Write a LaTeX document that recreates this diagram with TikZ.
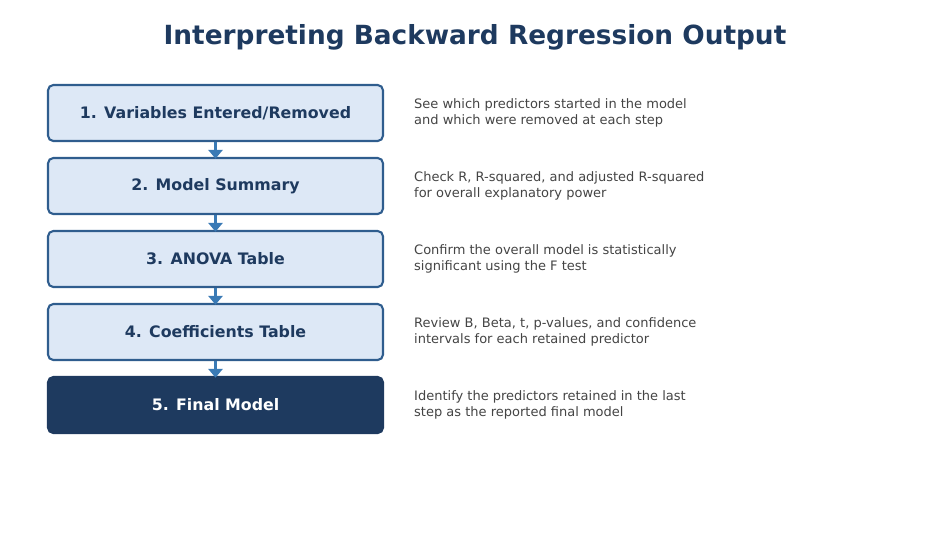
\documentclass[tikz,border=0pt]{standalone}
\usepackage{fontspec}
\setmainfont{DejaVu Sans}
\usetikzlibrary{positioning,arrows.meta}
\definecolor{navy}{HTML}{1E3A5F}
\definecolor{stepfill}{HTML}{DDE8F6}
\definecolor{stepline}{HTML}{2F5D8E}
\definecolor{arrowblue}{HTML}{3A7AB5}
\definecolor{desc}{HTML}{444444}
\tikzset{
  stage/.style={draw=stepline,line width=1.2pt,fill=stepfill,rounded corners=3pt,
    minimum width=6.7cm,minimum height=1.12cm,font=\fontsize{9}{10}\selectfont\bfseries,text=navy},
  final/.style={stage,draw=navy,fill=navy,text=white},
  note/.style={anchor=west,align=left,text=desc,font=\fontsize{7.4}{9}\selectfont},
  flow/.style={draw=arrowblue,line width=2.2pt,-{Triangle[length=5pt,width=8pt]},shorten >=-1pt}
}
\begin{document}
\begin{tikzpicture}[x=0.02cm,y=-0.02cm]
\useasboundingbox (0,0) rectangle (950,539);
\node[text=navy,font=\fontsize{15}{18}\selectfont\bfseries] (title) at (475,37) {Interpreting Backward Regression Output};

\node[stage] (s1) at (215.5,113) {1. Variables Entered/Removed};
\node[stage] (s2) at (215.5,186) {2. Model Summary};
\node[stage] (s3) at (215.5,259) {3. ANOVA Table};
\node[stage] (s4) at (215.5,332) {4. Coefficients Table};
\node[final] (s5) at (215.5,405) {5. Final Model};

\foreach \a/\b in {s1/s2,s2/s3,s3/s4,s4/s5}
  \draw[flow] (\a.south) -- (\b.north);

\node[note] (n1) at (408,113) {See which predictors started in the model\\and which were removed at each step};
\node[note] (n2) at (408,186) {Check R, R-squared, and adjusted R-squared\\for overall explanatory power};
\node[note] (n3) at (408,259) {Confirm the overall model is statistically\\significant using the F test};
\node[note] (n4) at (408,332) {Review B, Beta, t, p-values, and confidence\\intervals for each retained predictor};
\node[note] (n5) at (408,405) {Identify the predictors retained in the last\\step as the reported final model};
\end{tikzpicture}
\end{document}
